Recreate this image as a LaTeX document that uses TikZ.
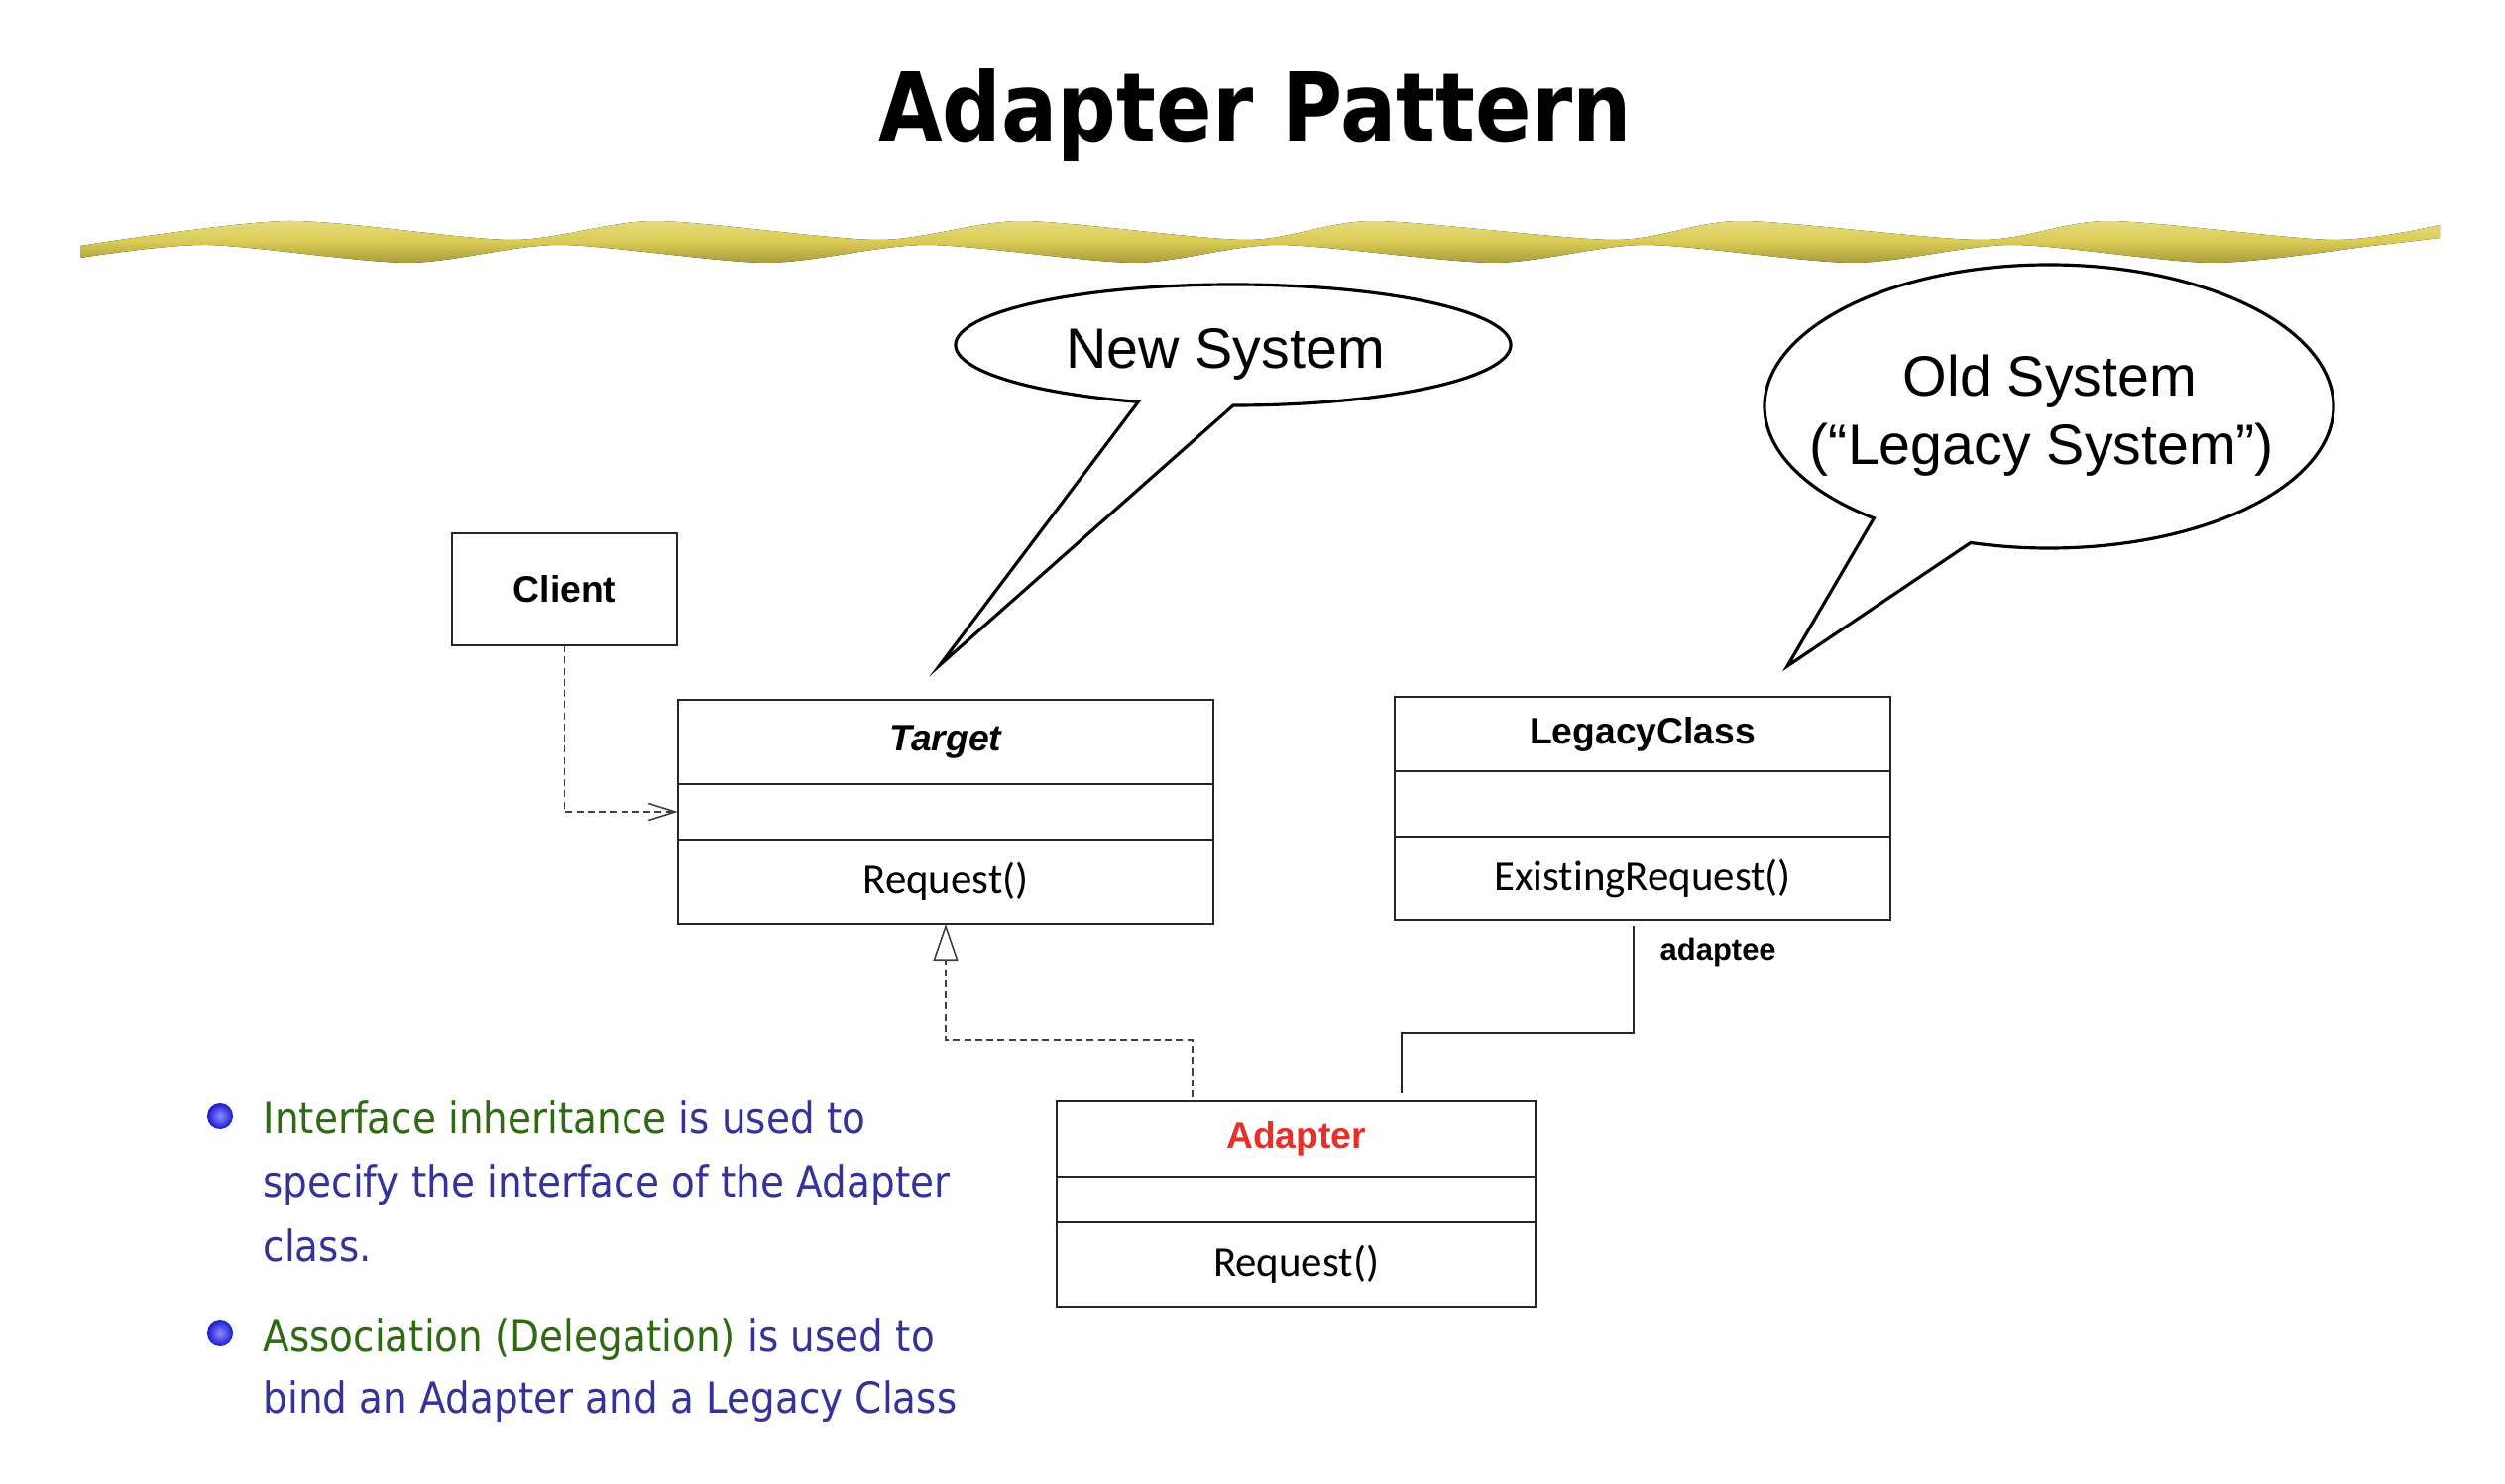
\documentclass[tikz,border=0pt]{standalone}
\usepackage{fontspec}
\usetikzlibrary{arrows.meta,calc,shadings}
\newfontfamily\titlefont[FakeStretch=0.87]{DejaVu Sans}
\newfontfamily\bodyfont[FakeStretch=0.9]{DejaVu Sans}
\newfontfamily\arialf{Liberation Sans}
\newfontfamily\calf[Ligatures=NoCommon]{Carlito}
\definecolor{txtgreen}{HTML}{2F6A12}
\definecolor{txtblue}{HTML}{333399}
\definecolor{adred}{HTML}{E8302A}
\definecolor{wavetop}{HTML}{E6DB80}
\definecolor{wavemid}{HTML}{D9CB55}
\definecolor{wavebot}{HTML}{A99B3C}
\definecolor{ballin}{HTML}{8C8CFF}
\definecolor{ballout}{HTML}{1A1AD0}
\begin{document}
\begin{tikzpicture}[x=0.01cm,y=-0.01cm,
  comp/.style={draw=black!85, line width=0.5pt, inner sep=0pt, outer sep=0pt, font=\calf\fontsize{12.2}{14}\selectfont},
  clsname/.style={comp, font=\arialf\bfseries\fontsize{10.6}{12}\selectfont},
  bubble/.style={draw=black, line width=0.9pt, fill=white},
  bubtext/.style={font=\arialf\fontsize{16.3}{19}\selectfont, inner sep=0pt, anchor=base},
  dep/.style={draw=black!75, line width=0.45pt, dash pattern=on 2pt off 1.2pt},
  assoc/.style={draw=black!85, line width=0.5pt},
  bline/.style={anchor=base west, inner sep=0pt, font=\bodyfont\fontsize{12.3}{15}\selectfont, text=txtblue},
  bul/.style={circle, inner sep=0pt, minimum size=0.26cm, inner color=ballin, outer color=ballout}
]
\path[use as bounding box, fill=white] (0,0) rectangle (2527,1497);

% title
\node[anchor=base, inner sep=0pt, font=\titlefont\bfseries\fontsize{27.3}{32}\selectfont] (title) at (1266,143) {Adapter Pattern};

% wavy band
\fill[top color=wavetop, bottom color=wavebot, middle color=wavemid]
  plot[smooth, tension=0.45] coordinates {(81,248) (290,223) (516,242) (661,223) (886,242) (1031,223) (1257,242) (1386,223) (1628,242) (1757,223) (1998,242) (2127,223) (2353,242) (2461,227)}
  -- plot[smooth, tension=0.45] coordinates {(2461,240) (2401,247) (2232,265) (2030,247) (1869,265) (1660,247) (1507,265) (1289,247) (1144,265) (935,247) (773,265) (564,247) (411,265) (209,247) (81,260)} -- cycle;

% speech bubbles
\coordinate (b1c) at (1244,348);
\coordinate (b1tip) at (948,671);
\draw[bubble] (b1c) ++(110:280 and 61) arc[start angle=110,end angle=450,x radius=280,y radius=61] -- (b1tip) -- cycle;
\node[bubtext] (b1) at (1236,371) {New System};

\coordinate (b2c) at (2067,410);
\coordinate (b2tip) at (1803,672);
\draw[bubble] (b2c) ++(128:287 and 143) arc[start angle=128,end angle=466,x radius=287,y radius=143] -- (b2tip) -- cycle;
\node[bubtext] (b2a) at (2068,399) {Old System};
\node[bubtext] (b2b) at (2060,468) {(“Legacy System”)};

% classes
\node[clsname, minimum width=2.27cm, minimum height=1.13cm] (client) at (569.5,594.5) {Client};

\node[clsname, minimum width=5.4cm, minimum height=0.85cm, font=\arialf\bfseries\itshape\fontsize{10.6}{12}\selectfont] (tname) at (954,748.5) {Target};
\node[comp, minimum width=5.4cm, minimum height=0.56cm] (tattr) at (954,819) {};
\node[comp, minimum width=5.4cm, minimum height=0.85cm] (top) at (954,889.5) {Request()};

\node[clsname, minimum width=5.0cm, minimum height=0.75cm] (lname) at (1657,740.5) {LegacyClass};
\node[comp, minimum width=5.0cm, minimum height=0.66cm] (lattr) at (1657,811) {};
\node[comp, minimum width=5.0cm, minimum height=0.84cm] (lop) at (1657,886) {Exist\kern0pt ingRequest()};

\node[clsname, minimum width=4.83cm, minimum height=0.76cm, text=adred] (aname) at (1307.5,1149) {Adapter};
\node[comp, minimum width=4.83cm, minimum height=0.46cm] (aattr) at (1307.5,1210) {};
\node[comp, minimum width=4.83cm, minimum height=0.85cm] (aop) at (1307.5,1275.5) {Request()};

% connectors
\draw[dep, -{Straight Barb[length=0.27cm,width=0.17cm]}] (client.south) |- (tattr.west);

\coordinate (a1) at (1203,1107);
\draw[dep, -{Triangle[open,length=0.37cm,width=0.25cm]}] (a1) -- (1203,1049) -| (top.south);

\coordinate (l1) at (1648,934);
\coordinate (a2) at (1414,1103);
\draw[assoc] (l1) -- (1648,1042) -| (a2);
\node[anchor=base west, inner sep=0pt, font=\arialf\bfseries\fontsize{8.8}{10}\selectfont] (adaptee) at (1674,968) {adaptee};

% bullets
\node[bul] (bul1) at (222,1126) {};
\node[bul] (bul2) at (222,1345) {};
\node[bline] (t1) at (265,1143) {\textcolor{txtgreen}{Interface inheritance} is used to};
\node[bline] (t2) at (265,1207) {specify the interface of the Adapter};
\node[bline] (t3) at (265,1272) {class.};
\node[bline] (t4) at (265,1363) {\textcolor{txtgreen}{Association (Delegation)} is used to};
\node[bline] (t5) at (265,1425) {bind an Adapter and a Legacy Class};
\end{tikzpicture}
\end{document}
